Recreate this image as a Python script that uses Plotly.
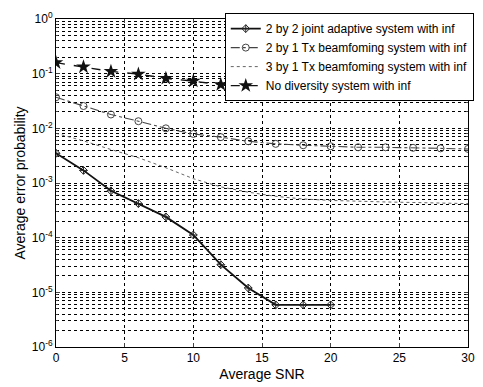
import plotly.graph_objects as go

snr = [0, 2, 4, 6, 8, 10, 12, 14, 16, 18, 20, 22, 24, 26, 28, 30]
snr_joint = [0, 2, 4, 6, 8, 10, 12, 14, 16, 18, 20]

joint_2x2 = [3.5e-3, 1.7e-3, 7.2e-4, 4.2e-4, 2.4e-4, 1.12e-4, 3.2e-5, 1.2e-5, 5.9e-6, 5.9e-6, 5.9e-6]
tx_2x1 = [0.037, 0.0256, 0.0179, 0.0135, 0.0100, 0.0079, 0.0069, 0.0058,
          0.0052, 0.0049, 0.0047, 0.0045, 0.0045, 0.0044, 0.0043, 0.0042]
tx_3x1 = [0.0081, 0.0059, 0.0041, 0.0029, 0.0019, 0.0012, 0.00085, 0.00068,
          0.00057, 0.00051, 0.00048, 0.00046, 0.00045, 0.00044, 0.00043, 0.00042]
no_div = [0.159, 0.133, 0.110, 0.098, 0.082, 0.073, 0.063, 0.060,
          0.057, 0.056, 0.055, 0.054, 0.054, 0.053, 0.053, 0.052]

names = ["2 by 2 joint adaptive system with inf",
         "2 by 1 Tx beamfoming system with inf",
         "3 by 1 Tx beamfoming system with inf",
         "No diversity system with inf"]

y_tickvals = [1e-6, 1e-5, 1e-4, 1e-3, 1e-2, 1e-1, 1]
y_ticktext = ["10<sup>-6</sup>", "10<sup>-5</sup>", "10<sup>-4</sup>", "10<sup>-3</sup>",
              "10<sup>-2</sup>", "10<sup>-1</sup>", "10<sup>0</sup>"]
x_tickvals = [0, 5, 10, 15, 20, 25, 30]

fig = go.Figure()
fig.add_trace(go.Scatter(x=snr_joint, y=joint_2x2, name=names[0], mode="lines+markers",
                         line=dict(color="#111111", width=1.8),
                         marker=dict(symbol="diamond-cross-open", size=6, color="#222222", line=dict(width=1))))
fig.add_trace(go.Scatter(x=snr, y=tx_2x1, name=names[1], mode="lines+markers",
                         line=dict(color="#444444", width=1.1, dash="dashdot"),
                         marker=dict(symbol="circle-open", size=7, color="#444444", line=dict(width=1))))
fig.add_trace(go.Scatter(x=snr, y=tx_3x1, name=names[2], mode="lines",
                         line=dict(color="#666666", width=1, dash="dot")))
fig.add_trace(go.Scatter(x=snr, y=no_div, name=names[3], mode="lines+markers",
                         line=dict(color="#111111", width=1.4, dash="dash"),
                         marker=dict(symbol="star", size=11, color="#111111")))

grid_dash = "3px,3px"
fig.update_layout(
    width=483, height=387,
    margin=dict(l=56, r=8, t=19, b=35),
    paper_bgcolor="white", plot_bgcolor="white",
    font=dict(family="Liberation Sans, Arial, sans-serif", size=12, color="black"),
    showlegend=True,
    legend=dict(x=1.014, y=1.018, xanchor="right", yanchor="top",
                bgcolor="white", bordercolor="black", borderwidth=1,
                font=dict(size=12), itemwidth=30, tracegroupgap=0),
    xaxis=dict(range=[0, 30], tickvals=x_tickvals, ticks="inside", ticklen=4,
               showline=True, linecolor="black", linewidth=1, mirror="ticks",
               showgrid=True, gridcolor="black", gridwidth=1, griddash=grid_dash,
               zeroline=False, title=dict(text="Average SNR", standoff=4),
               tickfont=dict(size=12)),
    yaxis=dict(type="log", range=[-6, 0], tickvals=y_tickvals, ticktext=y_ticktext,
               ticks="inside", ticklen=4,
               showline=True, linecolor="black", linewidth=1, mirror="ticks",
               showgrid=True, gridcolor="black", gridwidth=1, griddash=grid_dash,
               minor=dict(dtick="D1", showgrid=True, gridcolor="black", gridwidth=1,
                          griddash=grid_dash, ticks="inside", ticklen=2),
               zeroline=False, title=dict(text="Average error probability", standoff=2),
               tickfont=dict(size=12)),
)

fig.write_html("out.html")
